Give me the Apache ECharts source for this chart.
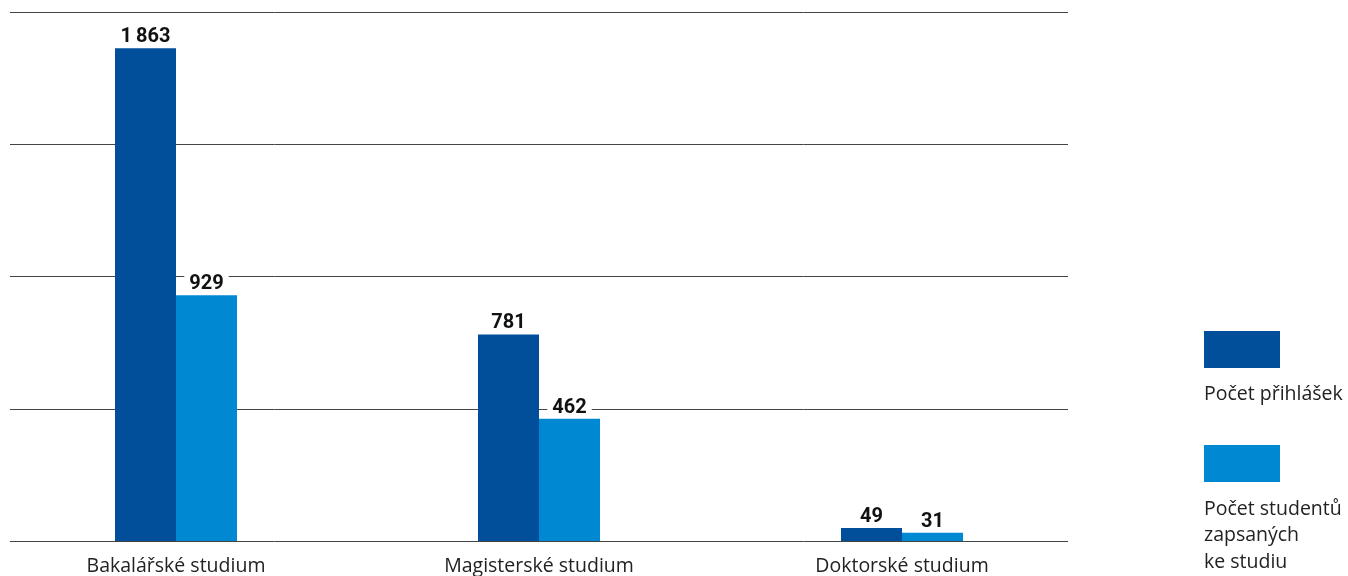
<!DOCTYPE html>
<html>
<head>
<meta charset="utf-8">
<script src="https://cdn.jsdelivr.net/npm/echarts@6/dist/echarts.min.js"></script>
<style>
  html, body { margin: 0; padding: 0; background: #fff; overflow: hidden; }
  /* the canvas starts a few pixels left of the page so the first category band can bleed off the edge */
  #chart { position: absolute; left: -6px; top: 0; width: 1354px; height: 576px; }
</style>
</head>
<body>
<div id="chart"></div>
<script>
// Study programmes and their figures
const categories = ['Bakalářské studium', 'Magisterské studium', 'Doktorské studium'];
const applications = [1863, 781, 49];
const enrolled = [929, 462, 31];
const seriesNames = ['Počet přihlášek', 'Počet studentů\nzapsaných\nke studiu'];

const COLOR_DARK = '#014e9a';
const COLOR_LIGHT = '#0089d2';
const FONT = '"Open Sans", Roboto, sans-serif';
const FONT_BOLD = 'Roboto, "Open Sans", sans-serif';
const OFFSET = 6; // horizontal shift of the canvas

// "1863" -> "1 863"
function fmt(v) {
  return String(v).replace(/\B(?=(\d{3})+(?!\d))/g, '\u2009');
}

const valueLabel = {
  show: true,
  position: 'top',
  distance: 2,
  color: '#111',
  fontFamily: FONT_BOLD,
  fontWeight: 'bold',
  fontSize: 20,
  lineHeight: 18,
  backgroundColor: '#fff',
  padding: [0, 5, 0, 5],
  formatter: p => fmt(p.value)
};

const chart = echarts.init(document.getElementById('chart'), null, { renderer: 'canvas' });

chart.setOption({
  animation: false,
  grid: [
    // bars
    { left: 0.5, width: 1089, top: 12, height: 529 },
    // horizontal rules
    { left: 10 + OFFSET, width: 1058, top: 12, height: 529 }
  ],
  xAxis: [
    {
      gridIndex: 0,
      type: 'category',
      data: categories,
      axisLine: { show: false },
      axisTick: { show: false },
      axisLabel: { color: '#222', fontFamily: FONT, fontSize: 19.5, margin: 15 }
    },
    { gridIndex: 1, type: 'value', show: false, min: 0, max: 1 }
  ],
  yAxis: [
    { gridIndex: 0, type: 'value', min: 0, max: 2000, interval: 500, show: false },
    {
      gridIndex: 1, type: 'value', min: 0, max: 2000, interval: 500,
      axisLine: { show: false }, axisTick: { show: false }, axisLabel: { show: false },
      splitLine: { show: true, lineStyle: { color: '#444', width: 1 } }
    }
  ],
  series: [
    {
      name: 'Počet přihlášek',
      type: 'bar',
      xAxisIndex: 0, yAxisIndex: 0,
      data: applications,
      barWidth: 61,
      barGap: '0%',
      itemStyle: { color: COLOR_DARK },
      label: valueLabel,
      z: 3
    },
    {
      name: 'Počet studentů zapsaných ke studiu',
      type: 'bar',
      xAxisIndex: 0, yAxisIndex: 0,
      data: enrolled,
      barWidth: 61,
      barGap: '0%',
      itemStyle: { color: COLOR_LIGHT },
      label: valueLabel,
      z: 3
    }
  ],
  graphic: [
    { type: 'rect', left: 1204 + OFFSET, top: 331, shape: { width: 76, height: 37 }, style: { fill: COLOR_DARK } },
    { type: 'text', left: 1204 + OFFSET, top: 381, style: { text: seriesNames[0], fill: '#222', font: '19.5px ' + FONT, lineHeight: 27 } },
    { type: 'rect', left: 1204 + OFFSET, top: 445, shape: { width: 76, height: 37 }, style: { fill: COLOR_LIGHT } },
    { type: 'text', left: 1204 + OFFSET, top: 496, style: { text: seriesNames[1], fill: '#222', font: '19.5px ' + FONT, lineHeight: 26.5 } }
  ]
});
</script>
</body>
</html>
